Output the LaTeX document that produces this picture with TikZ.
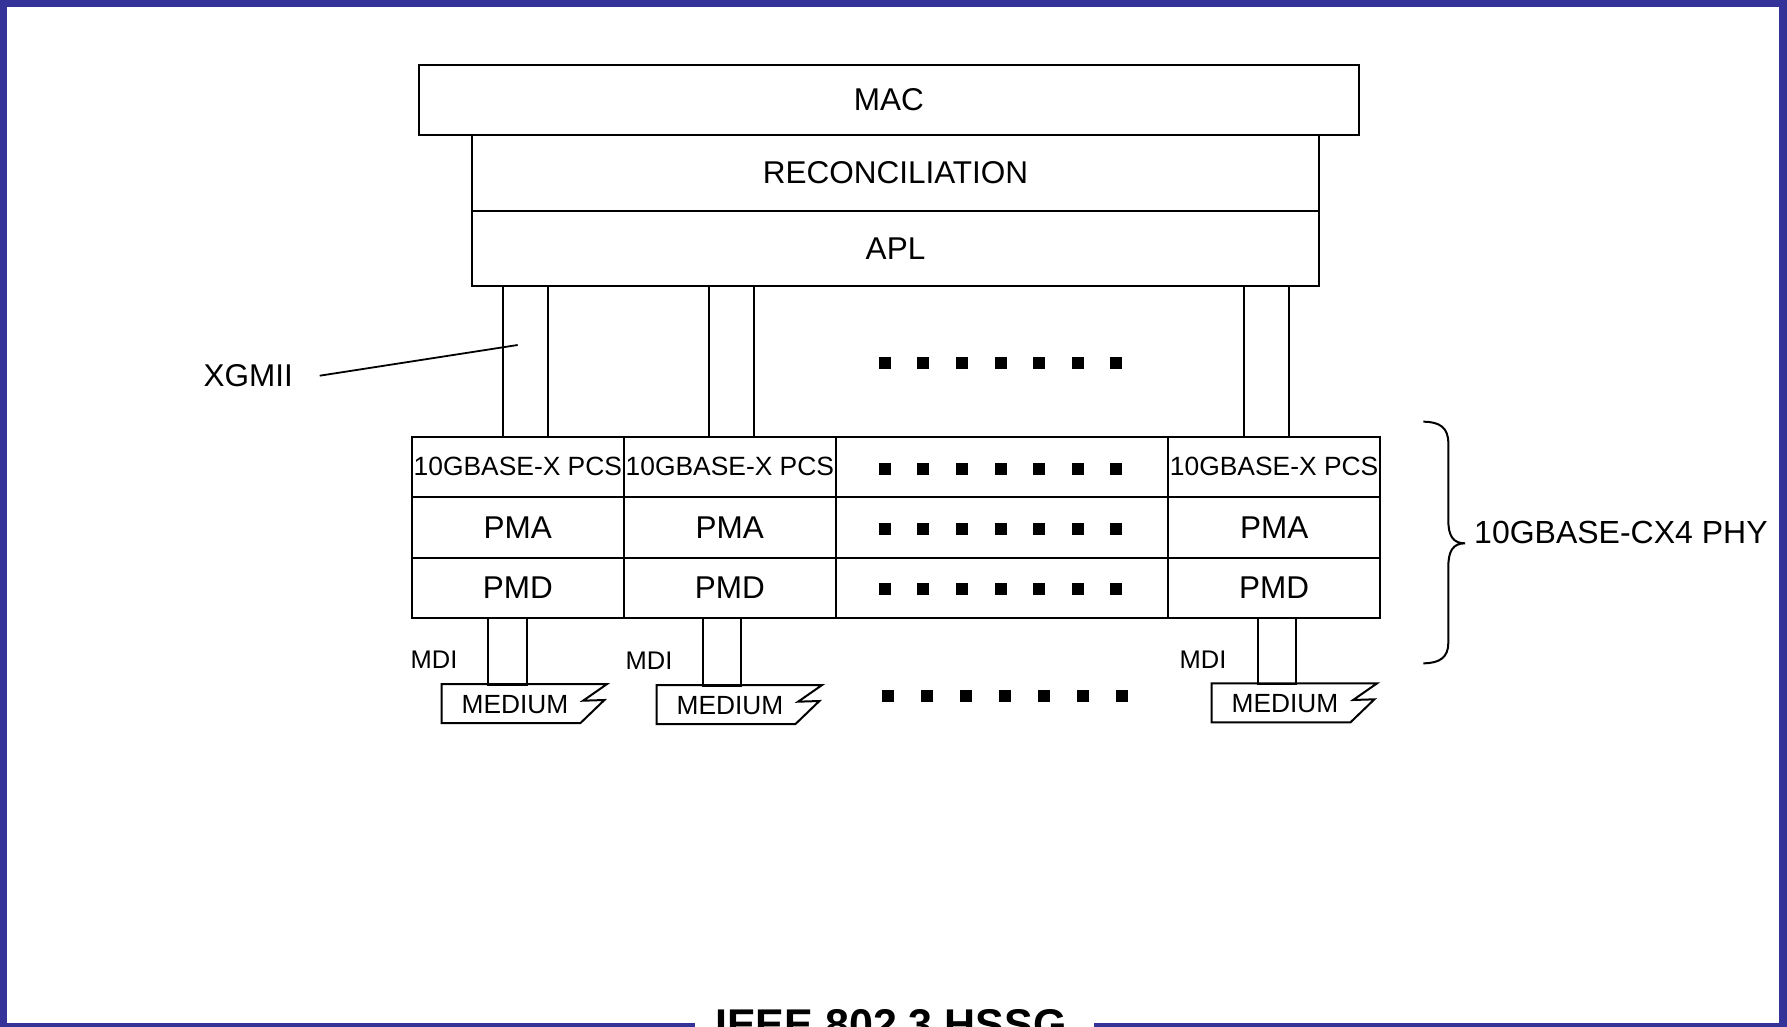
\documentclass[tikz,border=0pt]{standalone}
\usepackage{fontspec}
\setmainfont{Liberation Sans}
\definecolor{frameblue}{HTML}{333399}
\begin{document}
\begin{tikzpicture}[x=1pt,y=-1pt,
  lay/.style={draw, line width=2pt, inner sep=0pt, anchor=north west, font=\fontsize{31.5}{36}\selectfont},
  pcs/.style={lay, font=\fontsize{26.4}{30}\selectfont},
  pill/.style={draw, line width=1.8pt, inner sep=0pt, anchor=north west},
  medbox/.style={inner sep=0pt, anchor=north west, minimum width=165pt, minimum height=38.7pt},
  medtxt/.style={inner sep=0pt, font=\fontsize{26.3}{30}\selectfont},
  mdi/.style={inner sep=0pt, font=\fontsize{25.5}{30}\selectfont},
  lbl/.style={inner sep=0pt, font=\fontsize{31.5}{36}\selectfont},
  ln/.style={line width=2pt},
  dot/.style={fill=black}
]
\useasboundingbox (0,0) rectangle (1787,1027);
\clip (0,0) rectangle (1787,1027);

% frame
\fill[frameblue] (0,0) rectangle (1787,7.3);
\fill[frameblue] (0,0) rectangle (7.3,1027);
\fill[frameblue] (1779,0) rectangle (1787,1027);
\fill[frameblue] (0,1023) rectangle (695,1035);
\fill[frameblue] (1094,1023) rectangle (1787,1035);
\node[inner sep=0pt, anchor=base, font=\fontsize{43}{46}\selectfont\bfseries] (title) at (891,1039) {IEEE 802.3 HSSG};

% upper layers
\node[lay, minimum width=940.3pt, minimum height=69.7pt] (mac) at (417.7,64.3) {MAC};
\node[lay, minimum width=847pt, minimum height=76pt] (rec) at (471,134) {RECONCILIATION};
\node[lay, minimum width=847pt, minimum height=75pt] (apl) at (471,210) {APL};

% XGMII pillars
\node[pill, minimum width=45.3pt, minimum height=150.7pt] (xg1) at (501.7,285) {};
\node[pill, minimum width=45pt, minimum height=150.7pt] (xg2) at (708,285) {};
\node[pill, minimum width=45pt, minimum height=150.7pt] (xg3) at (1243,285) {};

% PHY grid
\node[pcs, minimum width=211.7pt, minimum height=60.3pt] (pcs1) at (411,435.7) {10GBASE-X PCS};
\node[lay, minimum width=211.7pt, minimum height=60.7pt] (pma1) at (411,496) {PMA};
\node[lay, minimum width=211.7pt, minimum height=60pt] (pmd1) at (411,556.7) {PMD};
\node[pcs, minimum width=212.3pt, minimum height=60.3pt] (pcs2) at (622.7,435.7) {10GBASE-X PCS};
\node[lay, minimum width=212.3pt, minimum height=60.7pt] (pma2) at (622.7,496) {PMA};
\node[lay, minimum width=212.3pt, minimum height=60pt] (pmd2) at (622.7,556.7) {PMD};
\node[lay, minimum width=332.3pt, minimum height=60.3pt] (mid1) at (835,435.7) {};
\node[lay, minimum width=332.3pt, minimum height=60.7pt] (mid2) at (835,496) {};
\node[lay, minimum width=332.3pt, minimum height=60pt] (mid3) at (835,556.7) {};
\node[pcs, minimum width=211.7pt, minimum height=60.3pt] (pcs3) at (1167.3,435.7) {10GBASE-X PCS};
\node[lay, minimum width=211.7pt, minimum height=60.7pt] (pma3) at (1167.3,496) {PMA};
\node[lay, minimum width=211.7pt, minimum height=60pt] (pmd3) at (1167.3,556.7) {PMD};

% MDI pillars
\node[pill, minimum width=39pt, minimum height=67.3pt] (md1) at (486.7,616.7) {};
\node[pill, minimum width=38pt, minimum height=68.3pt] (md2) at (702,616.7) {};
\node[pill, minimum width=38.6pt, minimum height=66.6pt] (md3) at (1256.7,616.7) {};

% MDI labels
\node[mdi] (mdi1) at (434,660) {MDI};
\node[mdi] (mdi2) at (649,661) {MDI};
\node[mdi] (mdi3) at (1203,660) {MDI};

% media
\node[medbox] (med1) at (441.7,684) {};
\node[medbox] (med2) at (656.7,685) {};
\node[medbox] (med3) at (1211.7,683.3) {};
\foreach \m in {med1,med2,med3}{
  \draw[ln, line join=miter] (\m.north west) -- (\m.north east) -- ++(-24,16.7) -- ++(21.3,-0.7)
     -- ([xshift=-26.7pt]\m.south east) -- (\m.south west) -- cycle;
}
\node[medtxt] (mt1) at ([xshift=73.3pt,yshift=-1pt]med1.west) {MEDIUM};
\node[medtxt] (mt2) at ([xshift=73.3pt,yshift=-1pt]med2.west) {MEDIUM};
\node[medtxt] (mt3) at ([xshift=73.3pt,yshift=-1pt]med3.west) {MEDIUM};

% XGMII label
\node[lbl] (xgmii) at (248.3,376) {XGMII};
\coordinate (xgtip) at (517.7,345);
\draw[line width=1.8pt] ([xshift=26.6pt,yshift=0.3pt]xgmii.east) -- (xgtip);

% dots
\foreach \y in {363.3,469,528.5,589}{
  \foreach \i in {0,...,6}{
    \fill[dot] ({884.9+38.57*\i-6},{\y-6}) rectangle ++(12,12);
  }
}
\foreach \i in {0,...,6}{
  \fill[dot] ({888.3+38.87*\i-6},{696-6}) rectangle ++(12,12);
}

% brace
\coordinate (btop) at (1423.3,421.7);
\coordinate (btip) at (1465,543.3);
\coordinate (bbot) at (1423.3,663.3);
\draw[line width=2pt] (btop) .. controls (1440,421.7) and (1448.3,428) .. (1448.3,443)
  -- (1448.3,520) .. controls (1448.3,536) and (1453,543.3) .. (btip)
  .. controls (1453,543.3) and (1448.3,551) .. (1448.3,567)
  -- (1448.3,643) .. controls (1448.3,657) and (1440,663.3) .. (bbot);
\node[lbl, anchor=west, font=\fontsize{32}{36}\selectfont] (phy) at (1474,532.5) {10GBASE-CX4 PHY};
\end{tikzpicture}
\end{document}
